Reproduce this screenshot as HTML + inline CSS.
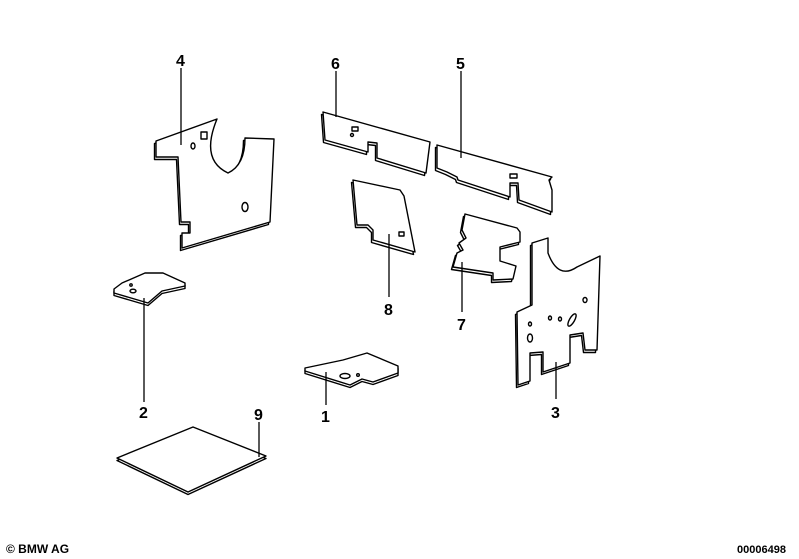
<!DOCTYPE html>
<html><head><meta charset="utf-8"><style>
html,body{margin:0;padding:0;background:#fff;}
svg{display:block}
text{font-family:"Liberation Sans",sans-serif;font-weight:bold;fill:#000}
</style></head><body>
<svg width="799" height="559" viewBox="0 0 799 559" xmlns="http://www.w3.org/2000/svg">
<defs>
<path id="p4" d="M156,141 L217,119 Q200,160 228,173 Q245,165 245,138 L274,139 L270,222 L182,248 L182,233 L190,233 L190,222 L181,222 L178,157 L156,157 Z"/>
<path id="p6" d="M323,112 L430,142 L426,173 L377,158 L377,143 L368,142 L368,152 L325,140 Z"/>
<path id="p5" d="M437,145 L552,177 L549,180 L552,190 L552,212 L519,200 L518,183 L510,183 L510,197 L458,180 L457,177 L447,172 L437,168 Z"/>
<path id="p8" d="M353,180 L400,190 L404,196 L415,252 L373,240 L373,230 L368,225 L357,225 Z"/>
<path id="p7" d="M465,214 L517,228 L520,232 L520,242 L500,247 L500,261 L516,266 L513,279 L493,280 L493,273 L453,267 L457,253 L463,250 L459,243 L466,238 L462,230 Z"/>
<path id="p3" d="M532,243 L548,238 L548,253 Q558,280 577,267 L600,256 L597,350 L585,350 L583,333 L570,335 L570,363 L543,372 L543,352 L530,353 L530,381 L518,385 L517,312 L532,305 Z"/>
<path id="p2" d="M114,289 L122,283 L145,273 L163,273 L185,283 L185,286 L162,291 L148,303 L114,293 Z"/>
<path id="p1" d="M305,368 L343,360 L367,353 L398,366 L398,373 L373,382 L362,379 L350,385 L305,371 Z"/>
<path id="p9" d="M117,458 L193,427 L266,456 L188,492 Z"/>
</defs>
<g fill="#fff" stroke="#000" stroke-width="1.4" stroke-linejoin="round">
<g transform="translate(-1.5,2.5)"><use href="#p4"/><use href="#p6"/><use href="#p5"/><use href="#p8"/><use href="#p7"/><use href="#p3"/></g>
<use href="#p4"/><use href="#p6"/><use href="#p5"/><use href="#p8"/><use href="#p7"/><use href="#p3"/>
<g transform="translate(0,2.5)"><use href="#p2"/><use href="#p1"/><use href="#p9"/></g>
<use href="#p2"/><use href="#p1"/><use href="#p9"/>
<ellipse cx="193" cy="146" rx="2" ry="3"/><rect x="201" y="132" width="6" height="7"/>
<ellipse cx="245" cy="207" rx="3" ry="4.5"/>
<rect x="352" y="127" width="6" height="4"/><circle cx="352" cy="135" r="1.5"/>
<rect x="510" y="174" width="7" height="4"/>
<rect x="399" y="232" width="5" height="4"/>
<ellipse cx="550" cy="318" rx="1.5" ry="2"/><ellipse cx="530" cy="324" rx="1.5" ry="2"/>
<ellipse cx="530" cy="338" rx="2.5" ry="4"/><ellipse cx="585" cy="300" rx="2" ry="2.5"/>
<ellipse cx="572" cy="320" rx="2.5" ry="7" transform="rotate(30 572 320)"/>
<ellipse cx="560" cy="319" rx="1.5" ry="2"/>
<ellipse cx="133" cy="291" rx="3" ry="1.8"/><circle cx="131" cy="285" r="1.2"/>
<ellipse cx="345" cy="376" rx="5" ry="2.5"/><circle cx="358" cy="375" r="1.3"/>
</g>
<g stroke="#000" stroke-width="1.3">
<line x1="181" y1="68" x2="181" y2="145"/>
<line x1="336" y1="71" x2="336" y2="117"/>
<line x1="461" y1="71" x2="461" y2="158"/>
<line x1="389" y1="234" x2="389" y2="297"/>
<line x1="462" y1="262" x2="462" y2="312"/>
<line x1="556" y1="362" x2="556" y2="399"/>
<line x1="144" y1="298" x2="144" y2="402"/>
<line x1="326" y1="372" x2="326" y2="405"/>
<line x1="259" y1="422" x2="259" y2="457"/>
</g>
<g font-size="16">
<text x="176" y="66">4</text>
<text x="331" y="69">6</text>
<text x="456" y="69">5</text>
<text x="384" y="315">8</text>
<text x="457" y="330">7</text>
<text x="551" y="418">3</text>
<text x="139" y="418">2</text>
<text x="321" y="422">1</text>
<text x="254" y="420">9</text>
</g>
<text x="6" y="553" font-size="12" font-weight="normal">© BMW AG</text>
<text x="737" y="553" font-size="11" font-weight="normal">00006498</text>
</svg>
</body></html>
